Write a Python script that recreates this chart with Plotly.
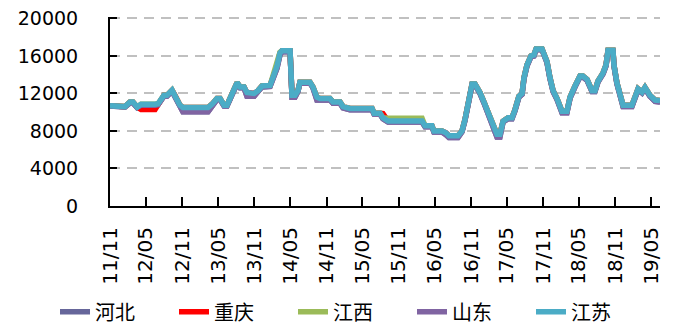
import plotly.graph_objects as go

dates = [
    "2011-11-01", "2011-12-11", "2012-01-16", "2012-02-10", "2012-02-25", "2012-03-17", "2012-04-06", "2012-06-16",
    "2012-07-01", "2012-07-31", "2012-08-15", "2012-09-10", "2012-09-25", "2012-10-20", "2012-11-04", "2013-03-11",
    "2013-03-31", "2013-04-25", "2013-05-11", "2013-05-31", "2013-06-15", "2013-07-05", "2013-08-05", "2013-08-20",
    "2013-09-09", "2013-09-24", "2013-10-30", "2013-11-19", "2013-12-09", "2014-01-19", "2014-02-03", "2014-02-23",
    "2014-03-10", "2014-03-20", "2014-04-30", "2014-05-10", "2014-05-25", "2014-06-09", "2014-06-19", "2014-08-09",
    "2014-08-24", "2014-09-13", "2014-09-29", "2014-11-18", "2014-12-03", "2015-01-08", "2015-01-23", "2015-02-27",
    "2015-06-19", "2015-06-29", "2015-07-29", "2015-08-13", "2015-09-08", "2016-02-27", "2016-03-13", "2016-04-17",
    "2016-04-27", "2016-06-07", "2016-06-27", "2016-07-12", "2016-08-27", "2016-09-16", "2016-10-01", "2016-10-16",
    "2016-11-06", "2016-11-21", "2016-12-01", "2016-12-16", "2017-01-05", "2017-01-26", "2017-02-20", "2017-03-12",
    "2017-03-27", "2017-04-12", "2017-05-07", "2017-05-27", "2017-06-11", "2017-07-01", "2017-07-17", "2017-07-27",
    "2017-08-11", "2017-08-31", "2017-09-15", "2017-09-26", "2017-10-26", "2017-11-05", "2017-11-20", "2017-12-05",
    "2017-12-21", "2018-01-10", "2018-02-04", "2018-03-01", "2018-03-17", "2018-04-11", "2018-05-06", "2018-05-21",
    "2018-06-11", "2018-07-06", "2018-07-21", "2018-08-05", "2018-08-31", "2018-09-15", "2018-09-25", "2018-10-20",
    "2018-10-25", "2018-11-09", "2018-11-25", "2018-12-10", "2019-01-24", "2019-02-09", "2019-02-24", "2019-03-16",
    "2019-03-31", "2019-04-25", "2019-05-21", "2019-06-15",
]

jiangsu = [
    10700, 10600, 10600, 11100, 11100, 10550, 10850, 10850,
    10900, 11800, 11800, 12350, 11800, 10750, 10500, 10500,
    10850, 11450, 11450, 10750, 10750, 11600, 13150, 12700,
    12700, 12100, 12000, 12300, 12800, 12850, 13700, 14900,
    16300, 16550, 16550, 11800, 11800, 12300, 13200, 13200,
    12700, 11600, 11450, 11450, 11100, 11100, 10600, 10400,
    10400, 9900, 9900, 9400, 9050, 9050, 8550, 8550,
    8000, 8000, 7800, 7500, 7500, 8000, 9200, 10750,
    13000, 13000, 12650, 12100, 11100, 9900, 8700, 7650,
    7650, 9050, 9400, 9400, 10250, 11700, 12000, 13700,
    15050, 16000, 16100, 16750, 16750, 16300, 15400, 13700,
    12300, 11450, 10100, 10100, 11600, 12800, 13850, 13850,
    13500, 12300, 12300, 13300, 14200, 15050, 16600, 16600,
    15050, 13150, 11800, 10750, 10750, 11600, 12500, 12150,
    12650, 11800, 11300, 11250,
]

chongqing = [
    10700, 10600, 10600, 11100, 11100, 10550, 10300, 10300,
    10900, 11800, 11800, 12350, 11800, 10750, 10500, 10500,
    10850, 11450, 11450, 10750, 10750, 11600, 13150, 12700,
    12700, 12100, 12000, 12300, 12800, 12850, 13700, 14900,
    16300, 16550, 16550, 11800, 11800, 12300, 13200, 13200,
    12700, 11600, 11450, 11450, 11100, 11100, 10600, 10400,
    10400, 9900, 9900, 9850, 9050, 9050, 8550, 8550,
    8000, 8000, 7800, 7500, 7500, 8000, 9200, 10750,
    13000, 13000, 12650, 12100, 11100, 9900, 8700, 7650,
    7650, 9050, 9400, 9400, 10250, 11700, 12000, 13700,
    15050, 16000, 16100, 16750, 16750, 16300, 15400, 13700,
    12300, 11450, 10100, 10100, 11600, 12800, 13850, 13850,
    13500, 12300, 12300, 13300, 14200, 15050, 16600, 16600,
    15050, 13150, 11800, 10750, 10750, 11600, 12500, 12150,
    12650, 11800, 11300, 11250,
]

jiangxi = [
    10700, 10600, 10600, 11100, 11100, 10550, 10850, 10850,
    10900, 11800, 11800, 12350, 11800, 10750, 10500, 10500,
    10850, 11450, 11450, 10750, 10750, 11600, 13150, 12700,
    12700, 11900, 11800, 12300, 12800, 12850, 13900, 15300,
    16400, 16550, 16550, 11800, 11800, 12300, 13200, 13200,
    12700, 11600, 11450, 11450, 11100, 11100, 10600, 10400,
    10400, 9900, 9900, 9400, 9350, 9350, 8550, 8550,
    8000, 8000, 7800, 7500, 7500, 8000, 9200, 10750,
    13000, 13000, 12650, 12100, 11100, 9900, 8700, 7650,
    7650, 9050, 9400, 9400, 10250, 11700, 12000, 13700,
    15050, 16000, 16100, 16750, 16750, 16300, 15400, 13700,
    12300, 11450, 10100, 10100, 11600, 12800, 13850, 13850,
    13500, 12300, 12300, 13300, 14200, 15050, 16600, 16600,
    15050, 13150, 11800, 10750, 10750, 11600, 12500, 12150,
    12650, 11800, 11300, 11250,
]

shandong = [
    10650, 10550, 10550, 11000, 11000, 10500, 10750, 10750,
    10800, 11700, 11700, 12250, 11700, 10600, 10050, 10050,
    10700, 11350, 11350, 10650, 10650, 11500, 13050, 12600,
    12600, 11700, 11700, 12200, 12700, 12750, 13600, 14700,
    16100, 16450, 16450, 11600, 11600, 12200, 13100, 13100,
    12600, 11300, 11300, 11300, 10950, 10950, 10450, 10250,
    10250, 9800, 9800, 9300, 8950, 8950, 8450, 8450,
    7900, 7900, 7600, 7300, 7300, 7900, 9100, 10650,
    12900, 12900, 12550, 12000, 11000, 9800, 8600, 7350,
    7350, 8950, 9300, 9300, 10150, 11600, 11900, 13600,
    14950, 15900, 16000, 16650, 16650, 16200, 15300, 13600,
    12200, 11350, 9950, 9950, 11500, 12700, 13750, 13750,
    13400, 12200, 12200, 13200, 14100, 14950, 16500, 16500,
    14950, 13050, 11700, 10600, 10600, 11500, 12400, 12050,
    12550, 11700, 11150, 11100,
]

hebei = [
    10650, 10550, 10550, 11000, 11000, 10500, 10750, 10750,
    10800, 11700, 11700, 12250, 11700, 10600, 10050, 10050,
    10700, 11350, 11350, 10650, 10650, 11500, 13050, 12600,
    12600, 11700, 11700, 12200, 12700, 12750, 13600, 14700,
    16100, 16450, 16450, 11600, 11600, 12200, 13100, 13100,
    12600, 11300, 11300, 11300, 10950, 10950, 10450, 10250,
    10250, 9800, 9800, 9300, 8950, 8950, 8450, 8450,
    7900, 7900, 7600, 7300, 7300, 7900, 9100, 10650,
    12900, 12900, 12550, 12000, 11000, 9800, 8600, 7350,
    7350, 8950, 9300, 9300, 10150, 11600, 11900, 13600,
    14950, 15900, 16000, 16650, 16650, 16200, 15300, 13600,
    12200, 11350, 9950, 9950, 11500, 12700, 13750, 13750,
    13400, 12200, 12200, 13200, 14100, 14950, 16500, 16500,
    14950, 13050, 11700, 10600, 10600, 11500, 12400, 12050,
    12550, 11700, 11150, 11100,
]

series_names = ["河北", "重庆", "江西", "山东", "江苏"]
series_values = [hebei, chongqing, jiangxi, shandong, jiangsu]
series_colors = ["#66669A", "#FF0000", "#9BBB59", "#8064A2", "#4BACC6"]

tick_dates = [
    "2011-11-01", "2012-05-01", "2012-11-01", "2013-05-01", "2013-11-01", "2014-05-01", "2014-11-01", "2015-05-01",
    "2015-11-01", "2016-05-01", "2016-11-01", "2017-05-01", "2017-11-01", "2018-05-01", "2018-11-01", "2019-05-01",
]
tick_labels = ["11/11", "12/05", "12/11", "13/05", "13/11", "14/05", "14/11", "15/05",
               "15/11", "16/05", "16/11", "17/05", "17/11", "18/05", "18/11", "19/05"]
y_ticks = [0, 4000, 8000, 12000, 16000, 20000]
y_labels = ["0", "4000", "8000", "12000", "16000", "20000"]

fig = go.Figure()
for name, vals, col in zip(series_names, series_values, series_colors):
    fig.add_trace(go.Scatter(x=dates, y=vals, name=name, mode="lines",
                             line=dict(color=col, width=5.5)))

fig.update_layout(
    width=668, height=317,
    margin=dict(l=102, r=16, t=9, b=119, autoexpand=False),
    paper_bgcolor="white", plot_bgcolor="white",
    font=dict(family="DejaVu Sans", color="#000000"),
    showlegend=True,
    legend=dict(orientation="h", xref="paper", yref="paper",
                x=-0.1, xanchor="left", y=-0.56, yanchor="middle",
                font=dict(family="Noto Sans CJK SC", size=20, color="#000000"),
                entrywidth=74, entrywidthmode="pixels", traceorder="normal",
                tracegroupgap=0, bgcolor="rgba(0,0,0,0)"),
)
fig.update_xaxes(
    type="date", range=["2011-11-01", "2019-06-15"],
    tickvals=tick_dates, ticktext=tick_labels, tickangle=-90,
    tickfont=dict(size=20, family="DejaVu Sans"),
    ticks="inside", ticklen=9, tickwidth=2, tickcolor="black",
    showline=True, linecolor="black", linewidth=2, showgrid=False,
    ticklabelstandoff=11, zeroline=False, automargin=False,
)
fig.update_yaxes(
    range=[0, 20150], tickvals=y_ticks, ticktext=y_labels,
    tickfont=dict(size=19, family="DejaVu Sans"),
    ticks="inside", ticklen=7, tickwidth=2, tickcolor="black",
    showline=True, linecolor="black", linewidth=2,
    showgrid=True, gridcolor="#C0C0C0", gridwidth=2, griddash="10px,7px",
    ticklabelstandoff=26, zeroline=False, automargin=False,
    ticklabeloverflow="allow",
)
fig.write_html("out.html")
